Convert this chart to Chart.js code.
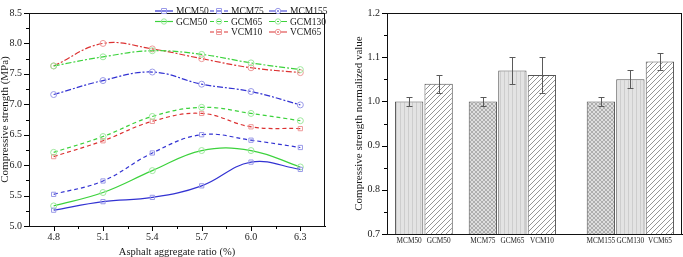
<!DOCTYPE html>
<html>
<head>
<meta charset="utf-8">
<script src="https://cdn.jsdelivr.net/npm/chart.js@4.4.1/dist/chart.umd.min.js"></script>
<style>
    html, body { margin: 0; padding: 0; background: #fff; }
    #wrap { position: relative; width: 683px; height: 257px; }
    #left { position: absolute; left: 0; top: 0; width: 340px; height: 257px; }
    #right { position: absolute; left: 340px; top: 0; width: 343px; height: 257px; }
</style>
</head>
<body>
<div id="wrap">
    <div id="left"><canvas id="strengthChart"></canvas></div>
    <div id="right"><canvas id="normChart"></canvas></div>
</div>
<script>
// ---- data: left panel (compressive strength vs asphalt aggregate ratio)
const ratios = [4.8, 5.1, 5.4, 5.7, 6.0, 6.3];
const strengthTicks = [5.0, 5.5, 6.0, 6.5, 7.0, 7.5, 8.0, 8.5];
const mcm50  = [5.26, 5.40, 5.47, 5.66, 6.05, 5.93];
const mcm75  = [5.52, 5.74, 6.20, 6.50, 6.41, 6.29];
const mcm155 = [7.16, 7.39, 7.53, 7.33, 7.21, 6.99];
const gcm50  = [5.33, 5.55, 5.91, 6.24, 6.24, 5.97];
const gcm65  = [6.21, 6.47, 6.80, 6.95, 6.85, 6.73];
const gcm130 = [7.63, 7.78, 7.88, 7.82, 7.68, 7.57];
const vcm10  = [6.14, 6.40, 6.72, 6.85, 6.63, 6.60];
const vcm65  = [7.63, 8.00, 7.91, 7.75, 7.60, 7.52];

// ---- data: right panel (normalized strength)
const normNames  = ["MCM50", "GCM50", "MCM75", "GCM65", "VCM10", "MCM155", "GCM130", "VCM65"];
const normGroups = [2, 3, 3];
const normValues = [1.00, 1.04, 1.00, 1.07, 1.06, 1.00, 1.05, 1.09];
const normErrors = [0.01, 0.02, 0.01, 0.03, 0.04, 0.01, 0.02, 0.02];
const normTicks  = [0.7, 0.8, 0.9, 1.0, 1.1, 1.2];

const FONT = "'Liberation Serif', 'Times New Roman', serif";
Chart.defaults.font.family = FONT;
Chart.defaults.color = "#1a1a1a";

const BLUE = "#3232d2", GREEN = "#3cd23c", RED = "#dc3232";
const PALE = { [BLUE]: "#9a9ae8", [GREEN]: "#9ee89e", [RED]: "#ee9a9a" };
const DASH = [4, 3], DASHDOT = [6, 2, 2, 2];

// midpoints between majors -> minor tick positions
function minorsOf(majors) {
    const out = [];
    for (let i = 0; i < majors.length - 1; i++) out.push((majors[i] + majors[i + 1]) / 2);
    return out;
}

// outward tick marks, major and minor
function tickMarks(specs) {
    return {
        id: "tickMarks",
        afterDraw(chart) {
            const { ctx } = chart;
            ctx.save();
            ctx.strokeStyle = "#000";
            ctx.lineWidth = 1;
            specs.forEach(s => {
                const sc = chart.scales[s.axis];
                const draw = (v, len) => {
                    const p = Math.round(sc.getPixelForValue(v)) + 0.5;
                    ctx.beginPath();
                    if (s.axis === "x") {
                        const y0 = chart.chartArea.bottom;
                        ctx.moveTo(p, y0); ctx.lineTo(p, y0 + len);
                    } else {
                        const x0 = chart.chartArea.left;
                        ctx.moveTo(x0, p); ctx.lineTo(x0 - len, p);
                    }
                    ctx.stroke();
                };
                s.majors.forEach(v => draw(v, 5));
                minorsOf(s.majors).forEach(v => draw(v, 3));
            });
            ctx.restore();
        }
    };
}

const frame = {
    id: "frame",
    afterDraw(chart) {
        const { ctx, chartArea: a } = chart;
        ctx.save();
        ctx.strokeStyle = "#111";
        ctx.lineWidth = 1;
        ctx.strokeRect(Math.round(a.left) + 0.5, Math.round(a.top) + 0.5,
            Math.round(a.right - a.left) - 1, Math.round(a.bottom - a.top));
        ctx.restore();
    }
};

// ---------------- left chart ----------------
function lineSet(label, vals, color, dash, marker) {
    return {
        label: label,
        data: ratios.map((r, i) => ({ x: r, y: vals[i] })),
        borderColor: color,
        borderWidth: 1.2,
        borderDash: dash,
        tension: 0.4,
        pointStyle: marker,
        pointRadius: 3,
        pointBorderWidth: 1,
        pointBorderColor: PALE[color],
        pointBackgroundColor: "rgba(255,255,255,0)",
        fill: false
    };
}

const strengthSets = [
    lineSet("MCM50", mcm50, BLUE, [], "rect"),
    lineSet("MCM75", mcm75, BLUE, DASH, "rect"),
    lineSet("MCM155", mcm155, BLUE, DASHDOT, "circle"),
    lineSet("GCM50", gcm50, GREEN, [], "circle"),
    lineSet("GCM65", gcm65, GREEN, DASH, "circle"),
    lineSet("GCM130", gcm130, GREEN, DASHDOT, "circle"),
    lineSet("VCM10", vcm10, RED, DASH, "rect"),
    lineSet("VCM65", vcm65, RED, DASHDOT, "circle")
];

// 3x3 legend grid, last row starts in column 2
const legendGrid = {
    id: "legendGrid",
    afterDraw(chart) {
        const { ctx } = chart;
        const rows = [[0, 1, 2], [3, 4, 5], [null, 6, 7]];
        const textX = [176, 231, 290];
        const rowY = [11, 21.5, 32];
        ctx.save();
        ctx.font = "9.5px " + FONT;
        ctx.textBaseline = "middle";
        ctx.fillStyle = "#1a1a1a";
        rows.forEach((row, r) => row.forEach((di, c) => {
            if (di === null) return;
            const ds = chart.data.datasets[di];
            const x1 = textX[c] - 21, x2 = textX[c] - 3, y = rowY[r];
            ctx.strokeStyle = ds.borderColor;
            ctx.lineWidth = 1.2;
            ctx.setLineDash(ds.borderDash);
            ctx.beginPath(); ctx.moveTo(x1, y); ctx.lineTo(x2, y); ctx.stroke();
            ctx.setLineDash([]);
            ctx.strokeStyle = ds.pointBorderColor;
            ctx.lineWidth = 1;
            const mx = (x1 + x2) / 2;
            ctx.beginPath();
            if (ds.pointStyle === "rect") ctx.rect(mx - 2.5, y - 2.5, 5, 5);
            else ctx.arc(mx, y, 2.7, 0, Math.PI * 2);
            ctx.stroke();
            ctx.fillText(ds.label, textX[c], y + 0.5);
        }));
        ctx.restore();
    }
};

new Chart(document.getElementById("strengthChart"), {
    type: "line",
    data: { datasets: strengthSets },
    options: {
        responsive: true,
        maintainAspectRatio: false,
        animation: false,
        layout: { padding: { left: 0, right: 15, top: 6, bottom: 0 } },
        plugins: { legend: { display: false }, tooltip: { enabled: false } },
        scales: {
            x: {
                type: "linear",
                min: 4.65,
                max: 6.45,
                afterBuildTicks: s => { s.ticks = ratios.map(v => ({ value: v })); },
                afterFit: s => { s.height = 31; },
                grid: { display: false, drawTicks: false },
                border: { display: true, color: "#000", width: 1 },
                ticks: { padding: 5, font: { size: 10 }, callback: v => Number(v).toFixed(1) },
                title: {
                    display: true,
                    text: "Asphalt aggregate ratio (%)",
                    font: { size: 10.5, lineHeight: 1 },
                    padding: { top: 0, bottom: 0 }
                }
            },
            y: {
                type: "linear",
                min: 5,
                max: 8.5,
                afterBuildTicks: s => { s.ticks = strengthTicks.map(v => ({ value: v })); },
                afterFit: s => { s.width = 29; },
                grid: { display: false, drawTicks: false },
                border: { display: true, color: "#000", width: 1 },
                ticks: { padding: 7, font: { size: 10 }, callback: v => Number(v).toFixed(1) },
                title: {
                    display: true,
                    text: "Compressive strength (MPa)",
                    font: { size: 11, lineHeight: 1 },
                    padding: { top: 0, bottom: 0 }
                }
            }
        }
    },
    plugins: [frame, tickMarks([{ axis: "x", majors: ratios }, { axis: "y", majors: strengthTicks }]), legendGrid]
});

// ---------------- right chart ----------------
// bar slots on half-width categories; blanks give the group spacing
const GROUP_GAP = [2, 3];
const catLabels = [""], catBar = [-1];
let k = 0;
normGroups.forEach((n, g) => {
    for (let i = 0; i < n; i++) {
        catLabels.push(normNames[k]); catBar.push(k); k++;
        if (i < n - 1) { catLabels.push(""); catBar.push(-1); }
    }
    if (g < normGroups.length - 1) {
        for (let j = 0; j < GROUP_GAP[g]; j++) { catLabels.push(""); catBar.push(-1); }
    }
});
catLabels.push(""); catBar.push(-1);
const catValues = catBar.map(b => (b < 0 ? null : normValues[b]));

function makePattern(kind) {
    const c = document.createElement("canvas");
    const g = c.getContext("2d");
    if (kind === "vert") {
        c.width = 4; c.height = 4;
        g.fillStyle = "#e3e3e3"; g.fillRect(0, 0, 4, 4);
        g.fillStyle = "#cdcdcd"; g.fillRect(0, 0, 1, 4);
    } else if (kind === "diag") {
        c.width = 5; c.height = 5;
        g.fillStyle = "#fff"; g.fillRect(0, 0, 5, 5);
        g.strokeStyle = "#7a7a7a"; g.lineWidth = 0.8;
        g.beginPath();
        g.moveTo(0, 5); g.lineTo(5, 0);
        g.moveTo(-1, 1); g.lineTo(1, -1);
        g.moveTo(4, 6); g.lineTo(6, 4);
        g.stroke();
    } else {
        c.width = 4; c.height = 4;
        g.fillStyle = "#dedede"; g.fillRect(0, 0, 4, 4);
        g.strokeStyle = "#9a9a9a"; g.lineWidth = 0.7;
        g.beginPath();
        g.moveTo(0, 0); g.lineTo(4, 4);
        g.moveTo(0, 4); g.lineTo(4, 0);
        g.stroke();
    }
    return g.createPattern(c, "repeat");
}
const barPatterns = ["vert", "diag", "cross", "vert", "diag", "cross", "vert", "diag"].map(makePattern);

const errorBars = {
    id: "errorBars",
    afterDatasetsDraw(chart) {
        const { ctx } = chart;
        const y = chart.scales.y;
        const meta = chart.getDatasetMeta(0);
        ctx.save();
        ctx.strokeStyle = "#5a5a5a";
        ctx.lineWidth = 1;
        meta.data.forEach((bar, i) => {
            const b = catBar[i];
            if (b < 0) return;
            const x = Math.round(bar.x) + 0.5;
            const top = Math.round(y.getPixelForValue(normValues[b] + normErrors[b])) + 0.5;
            const bot = Math.round(y.getPixelForValue(normValues[b] - normErrors[b])) + 0.5;
            ctx.beginPath();
            ctx.moveTo(x, top); ctx.lineTo(x, bot);
            ctx.moveTo(x - 3, top); ctx.lineTo(x + 3, top);
            ctx.moveTo(x - 3, bot); ctx.lineTo(x + 3, bot);
            ctx.stroke();
        });
        ctx.restore();
    }
};

new Chart(document.getElementById("normChart"), {
    type: "bar",
    data: {
        labels: catLabels,
        datasets: [{
            data: catValues,
            backgroundColor: ctx => (catBar[ctx.dataIndex] < 0 ? "transparent" : barPatterns[catBar[ctx.dataIndex]]),
            borderColor: "#555",
            borderWidth: 1,
            categoryPercentage: 1,
            barPercentage: 1.92,
            skipNull: true
        }]
    },
    options: {
        responsive: true,
        maintainAspectRatio: false,
        animation: false,
        layout: { padding: { left: 0, right: 1, top: 5, bottom: 0 } },
        plugins: { legend: { display: false }, tooltip: { enabled: false } },
        scales: {
            x: {
                afterFit: s => { s.height = 23; },
                grid: { display: false, drawTicks: false },
                border: { display: true, color: "#000", width: 1 },
                ticks: { autoSkip: false, maxRotation: 0, minRotation: 0, padding: 3, font: { size: 7.3 } }
            },
            y: {
                min: 0.7,
                max: 1.2,
                afterBuildTicks: s => { s.ticks = normTicks.map(v => ({ value: v })); },
                afterFit: s => { s.width = 47; },
                grid: { display: false, drawTicks: false },
                border: { display: true, color: "#000", width: 1 },
                ticks: { padding: 7, font: { size: 10 }, callback: v => Number(v).toFixed(1) },
                title: {
                    display: true,
                    text: "Compressive strength normalized value",
                    font: { size: 11, lineHeight: 1 },
                    padding: { top: 14, bottom: 0 }
                }
            }
        }
    },
    plugins: [frame, tickMarks([{ axis: "y", majors: normTicks }]), errorBars]
});
</script>
</body>
</html>
